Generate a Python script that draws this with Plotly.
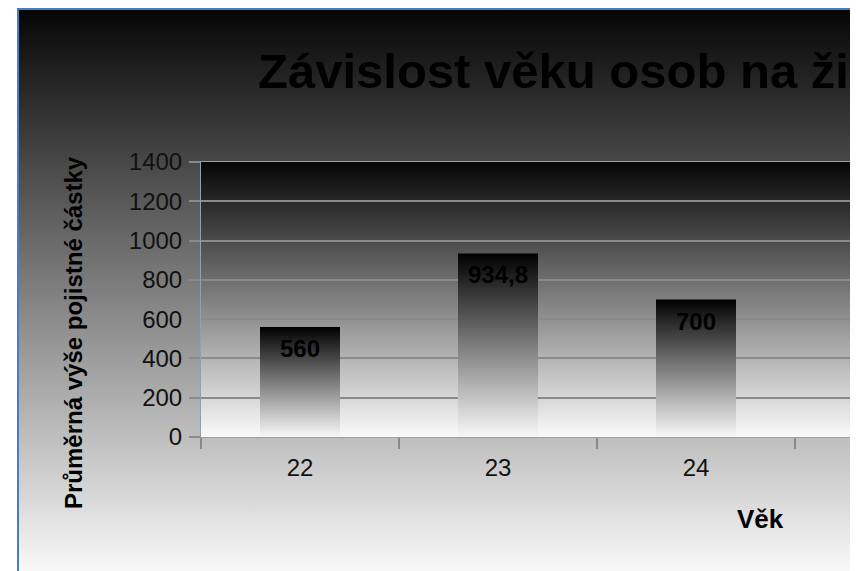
import base64
import plotly.graph_objects as go

# ---- data ----
categories = ["22", "23", "24"]
values = [560, 934.8, 700]
y_ticks = [0, 200, 400, 600, 800, 1000, 1200, 1400]
title_text = "Závislost věku osob na živ"
x_title = "Věk"
y_title = "Průměrná výše pojistné částky"

FONT = "Liberation Sans"
OFF = 8  # page body margin
W, H = 844, 563
ML, MR, MT, MB = 193, 0, 154, 134
PW = W - ML - MR
PH = H - MT - MB


def px_x(px):
    # px given in page pixels
    return (px - OFF - ML) / PW


def px_y(py):
    return (H - MB - (py - OFF)) / PH


def svg_uri(svg):
    return "data:image/svg+xml;base64," + base64.b64encode(svg.encode("utf-8")).decode()


bg_w, bg_h = 835, 563
bg_svg = (
    f'<svg xmlns="http://www.w3.org/2000/svg" width="{bg_w}" height="{bg_h}" '
    f'viewBox="0 0 {bg_w} {bg_h}" preserveAspectRatio="none">'
    '<defs><linearGradient id="g" x1="0" y1="0" x2="0" y2="1">'
    '<stop offset="0" stop-color="#050505"/><stop offset="1" stop-color="#f8f8f8"/>'
    '</linearGradient></defs>'
    f'<rect width="{bg_w}" height="{bg_h}" fill="url(#g)"/>'
    f'<line x1="1" y1="0" x2="1" y2="{bg_h}" stroke="#4a7ebb" stroke-width="2"/>'
    f'<line x1="0" y1="1" x2="{bg_w}" y2="1" stroke="#4a7ebb" stroke-width="2"/>'
    '</svg>'
)
plot_svg = (
    '<svg xmlns="http://www.w3.org/2000/svg" width="100" height="100" '
    'viewBox="0 0 100 100" preserveAspectRatio="none">'
    '<defs><linearGradient id="p" x1="0" y1="0" x2="0" y2="1">'
    '<stop offset="0" stop-color="#050505"/><stop offset="1" stop-color="#fafafa"/>'
    '</linearGradient></defs>'
    '<rect width="100" height="100" fill="url(#p)"/></svg>'
)

fig = go.Figure()

bar_w = 0.404
for i, (c, v) in enumerate(zip(categories, values)):
    xs = [i - bar_w / 2, i - bar_w / 2, i + bar_w / 2, i + bar_w / 2, i - bar_w / 2]
    ys = [0, v, v, 0, 0]
    fig.add_trace(go.Scatter(
        x=xs, y=ys, mode="lines", fill="toself",
        line=dict(width=0, color="rgba(0,0,0,0)"),
        fillgradient=dict(type="vertical",
                          colorscale=[[0, "#f8f8f8"], [1, "#000000"]]),
        showlegend=False, hoverinfo="skip", name=c,
    ))

annotations = []
for i, v in enumerate(values):
    label = f"{v:g}".replace(".", ",")
    annotations.append(dict(
        x=i, y=v, xref="x", yref="y", text=label, showarrow=False,
        yanchor="top", yshift=-6,
        font=dict(family=FONT, size=24, color="#000000", weight="bold"),
    ))

annotations.append(dict(
    x=px_x(256), y=px_y(71), xref="paper", yref="paper", text=title_text,
    showarrow=False, xanchor="left", yanchor="middle",
    font=dict(family=FONT, size=49, color="#000000", weight="bold"),
))
annotations.append(dict(
    x=px_x(760), y=px_y(519), xref="paper", yref="paper", text=x_title,
    showarrow=False, xanchor="center", yanchor="middle",
    font=dict(family=FONT, size=26, color="#000000", weight="bold"),
))
annotations.append(dict(
    x=px_x(73), y=px_y(333), xref="paper", yref="paper", text=y_title,
    showarrow=False, xanchor="center", yanchor="middle", textangle=-90,
    font=dict(family=FONT, size=24, color="#000000", weight="bold"),
))

boundaries = [i - 0.5 for i in range(len(categories) + 1)]

fig.update_layout(
    width=W, height=H,
    margin=dict(l=ML, r=MR, t=MT, b=MB, pad=0),
    paper_bgcolor="#ffffff",
    plot_bgcolor="rgba(0,0,0,0)",
    showlegend=False,
    font=dict(family=FONT, size=24, color="#111111"),
    images=[
        dict(source=svg_uri(bg_svg), xref="paper", yref="paper",
             x=px_x(17), y=px_y(8), sizex=bg_w / PW, sizey=bg_h / PH,
             xanchor="left", yanchor="top", sizing="stretch", layer="below"),
        dict(source=svg_uri(plot_svg), xref="paper", yref="paper",
             x=0, y=1, sizex=1, sizey=1,
             xanchor="left", yanchor="top", sizing="stretch", layer="below"),
    ],
    annotations=annotations,
    xaxis=dict(
        range=[-0.5, -0.5 + PW / 198], tickmode="array",
        tickvals=list(range(len(categories))), ticktext=categories,
        ticks="", showgrid=False, zeroline=False,
        showline=True, linecolor="#8fa2ab", linewidth=1, mirror=True,
        ticklabelstandoff=9,
        tickfont=dict(family=FONT, size=24, color="#111111"),
        minor=dict(tickmode="array", tickvals=boundaries, ticks="outside",
                   ticklen=11, tickwidth=2, tickcolor="#8a8a8a", showgrid=False),
    ),
    yaxis=dict(
        range=[0, 1400], tickmode="array", tickvals=y_ticks,
        ticks="outside", ticklen=11, tickwidth=2, tickcolor="#8a8a8a",
        showgrid=True, gridcolor="#8a8a8a", gridwidth=2, zeroline=False,
        showline=True, linecolor="#8fa2ab", linewidth=1,
        ticklabelstandoff=2,
        tickfont=dict(family=FONT, size=24, color="#111111"),
    ),
)

fig.write_html("out.html")
